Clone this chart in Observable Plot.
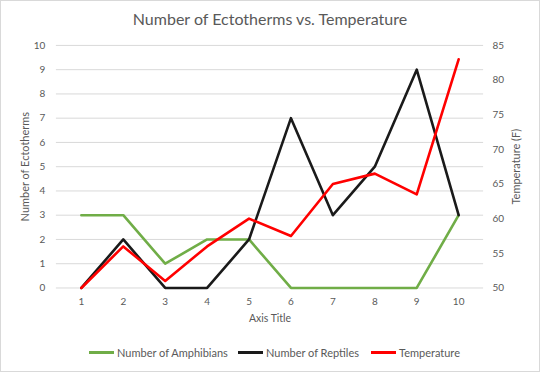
<!DOCTYPE html>
<html>
<head>
<meta charset="utf-8">
<script src="https://cdn.jsdelivr.net/npm/d3@7"></script>
<script src="https://cdn.jsdelivr.net/npm/@observablehq/plot@0.6"></script>
<style>
  html, body { margin: 0; padding: 0; background: #fff; }
  #chart { position: relative; width: 540px; height: 372px; box-sizing: border-box; border: 1px solid #d9d9d9; font-family: Lato, "Open Sans", sans-serif; color: #595959; overflow: hidden; }
  #title { position: absolute; left: 0; right: 0; top: 8px; text-align: center; font-size: 16px; color: #595959; }
  #plot { position: absolute; left: -1px; top: -1px; }
  #legend { position: absolute; top: 345px; left: 0; width: 540px; font-size: 11px; color: #595959; }
  .item { position: absolute; top: 0; display: flex; align-items: center; white-space: nowrap; }
  .sw { display: inline-block; width: 25px; height: 3px; margin-right: 3px; }
</style>
</head>
<body>
<div id="chart">
  <div id="plot"></div>
  <div id="title">Number of Ectotherms vs. Temperature</div>
  <div id="legend"></div>
</div>
<script>
const categories = [1, 2, 3, 4, 5, 6, 7, 8, 9, 10];
const amphibians = [3, 3, 1, 2, 2, 0, 0, 0, 0, 3];
const reptiles = [0, 2, 0, 0, 2, 7, 3, 5, 9, 3];
const temperature = [50, 56, 51, 56, 60, 57.5, 65, 66.5, 63.5, 83];
const leftTicks = [0, 1, 2, 3, 4, 5, 6, 7, 8, 9, 10];
const rightTicks = [50, 55, 60, 65, 70, 75, 80, 85];
const seriesNames = ["Number of Amphibians", "Number of Reptiles", "Temperature"];
const seriesColors = ["#70AD47", "#1a1a1a", "#FF0000"];

const tMin = 50, tMax = 85, yMax = 10;
const toLeft = t => (t - tMin) / (tMax - tMin) * yMax;
const fromLeft = v => v / yMax * (tMax - tMin) + tMin;

const amphData = categories.map((c, i) => ({x: c, y: amphibians[i]}));
const reptData = categories.map((c, i) => ({x: c, y: reptiles[i]}));
const tempData = categories.map((c, i) => ({x: c, y: toLeft(temperature[i])}));

const plot = Plot.plot({
  width: 540,
  height: 335,
  marginLeft: 56,
  marginRight: 56,
  marginTop: 45,
  marginBottom: 47,
  style: { fontFamily: "Lato, 'Open Sans', sans-serif", fontSize: "10px", color: "#595959", background: "transparent" },
  x: { type: "point", domain: categories, padding: 0.5, label: null },
  y: { domain: [0, yMax], label: null },
  marks: [
    Plot.ruleY(leftTicks, { stroke: "#d9d9d9", strokeWidth: 1 }),
    Plot.axisX({ tickSize: 0, tickPadding: 10, label: null, fill: "#595959" }),
    Plot.axisY(leftTicks, { anchor: "left", tickSize: 0, tickPadding: 11, label: null, fill: "#595959" }),
    Plot.axisY(rightTicks.map(toLeft), { anchor: "right", tickSize: 0, tickPadding: 9, tickFormat: v => String(Math.round(fromLeft(v))), label: null, fill: "#595959", textAnchor: "start" }),
    Plot.lineY(amphData, { x: "x", y: "y", stroke: seriesColors[0], strokeWidth: 2.6 }),
    Plot.lineY(reptData, { x: "x", y: "y", stroke: seriesColors[1], strokeWidth: 2.6 }),
    Plot.lineY(tempData, { x: "x", y: "y", stroke: seriesColors[2], strokeWidth: 2.6 }),
    Plot.text(["Axis Title"], { frameAnchor: "bottom", dy: 34, fill: "#595959", fontSize: 10.5 }),
    Plot.text(["Number of Ectotherms"], { frameAnchor: "left", dx: -31, rotate: -90, textAnchor: "middle", fill: "#595959", fontSize: 11 }),
    Plot.text(["Temperature (F)"], { frameAnchor: "right", dx: 33, rotate: -90, textAnchor: "middle", fill: "#595959", fontSize: 11 })
  ]
});
document.getElementById("plot").appendChild(plot);

const legend = document.getElementById("legend");
const legendX = [88, 237, 370];
seriesNames.forEach((name, i) => {
  const item = document.createElement("div");
  item.className = "item";
  item.style.left = legendX[i] + "px";
  const sw = document.createElement("span");
  sw.className = "sw";
  sw.style.background = seriesColors[i];
  const lab = document.createElement("span");
  lab.textContent = name;
  item.appendChild(sw);
  item.appendChild(lab);
  legend.appendChild(item);
});
</script>
</body>
</html>
